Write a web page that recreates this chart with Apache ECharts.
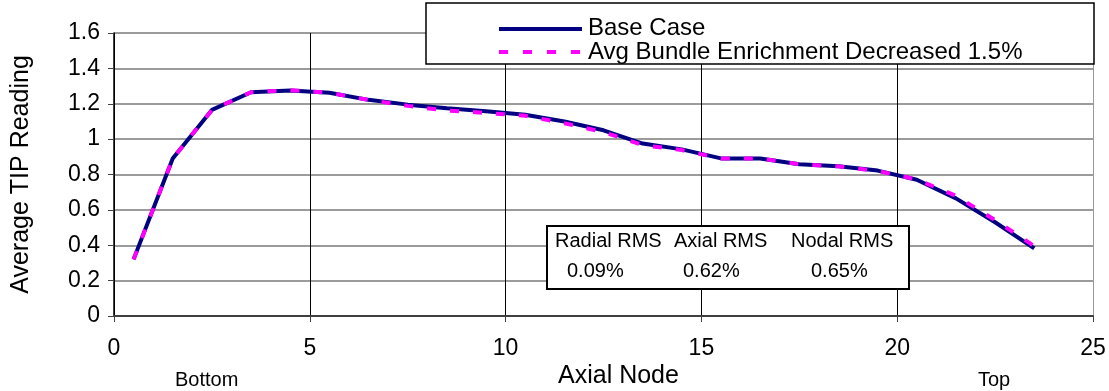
<!DOCTYPE html>
<html>
<head>
<meta charset="utf-8">
<script src="https://cdn.jsdelivr.net/npm/echarts@6/dist/echarts.min.js"></script>
<style>
html,body{margin:0;padding:0;background:#fff;}
#chart{width:1109px;height:391px;}
</style>
</head>
<body>
<div id="chart"></div>
<script>
const nodes = [0.5,1.5,2.5,3.5,4.5,5.5,6.5,7.5,8.5,9.5,10.5,11.5,12.5,13.5,14.5,15.5,16.5,17.5,18.5,19.5,20.5,21.5,22.5,23.5];
const baseCase = [0.32,0.89,1.165,1.265,1.275,1.262,1.222,1.195,1.175,1.158,1.138,1.1,1.05,0.975,0.942,0.891,0.891,0.858,0.847,0.822,0.77,0.665,0.53,0.382];
const enrichDecreased = [0.32,0.89,1.165,1.265,1.277,1.262,1.222,1.188,1.162,1.148,1.132,1.09,1.04,0.966,0.938,0.891,0.891,0.858,0.846,0.82,0.772,0.68,0.542,0.395];
const seriesNames = ['Base Case','Avg Bundle Enrichment Decreased 1.5%'];
const rmsHeaders = ['Radial RMS','Axial RMS','Nodal RMS'];
const rmsValues = ['0.09%','0.62%','0.65%'];
const xTitle = 'Axial Node';
const yTitle = 'Average TIP Reading';
const endLabels = ['Bottom','Top'];

const FONT = '"Liberation Sans", Arial, sans-serif';
const chart = echarts.init(document.getElementById('chart'), null, {renderer:'canvas'});

const toPairs = vals => nodes.map((x,i)=>[x, vals[i]]);

const rmsHeaderX = [555, 674, 791];
const rmsValueX = [567, 683, 811];

const option = {
  animation:false,
  backgroundColor:'#fff',
  textStyle:{fontFamily:FONT},
  grid:{left:114, right:16, top:33, bottom:75, containLabel:false},
  legend:{
    orient:'vertical',
    left:499, top:16,
    itemWidth:83, itemHeight:12, itemGap:0,
    itemStyle:{opacity:0},
    lineStyle:{opacity:0},
    textStyle:{fontFamily:FONT, fontSize:24, color:'#000'},
    data:seriesNames,
    padding:0
  },
  xAxis:{
    type:'value', min:0, max:25, interval:5,
    axisLine:{show:true, lineStyle:{color:'#404040', width:2}},
    axisTick:{show:true, length:6, lineStyle:{color:'#404040'}},
    axisLabel:{fontFamily:FONT, fontSize:23, color:'#000', margin:21},
    splitLine:{show:true, lineStyle:{color:['#000','#000','#000','#000','#000','#999'], width:1}}
  },
  yAxis:{
    type:'value', min:0, max:1.6, interval:0.2,
    axisLine:{show:true, lineStyle:{color:'#000', width:1.5}},
    axisTick:{show:true, length:6, lineStyle:{color:'#404040'}},
    axisLabel:{fontFamily:FONT, fontSize:23, color:'#000', margin:14},
    splitLine:{show:true, lineStyle:{color:'#7a7a7a', width:1.5}},
    name:yTitle, nameLocation:'middle', nameGap:80, nameRotate:90,
    nameTextStyle:{fontFamily:FONT, fontSize:25, color:'#000'}
  },
  series:[
    {name:seriesNames[0], type:'line', data:toPairs(baseCase), symbol:'none', z:3,
     lineStyle:{color:'#000080', width:4}, itemStyle:{color:'#000080'}},
    {name:seriesNames[1], type:'line', data:toPairs(enrichDecreased), symbol:'none', z:4,
     lineStyle:{color:'#ff00ff', width:4, type:[9,14]}, itemStyle:{color:'#ff00ff'}}
  ],
  graphic:[
    {type:'rect', z:1, shape:{x:426, y:3, width:668, height:61}, style:{fill:'#fff', stroke:'#000', lineWidth:1.5}},
    {type:'line', z:50, shape:{x1:499, y1:29, x2:582, y2:29}, style:{stroke:'#000080', lineWidth:4}},
    {type:'line', z:50, shape:{x1:499, y1:52, x2:582, y2:52}, style:{stroke:'#ff00ff', lineWidth:4, lineDash:[9,15]}},
    {type:'rect', z:100, shape:{x:547, y:226, width:362, height:63}, style:{fill:'#fff', stroke:'#000', lineWidth:2}},
    ...rmsHeaders.map((t,i)=>({type:'text', z:101, left:rmsHeaderX[i], top:231, style:{text:t, font:'20px '+FONT, fill:'#000'}})),
    ...rmsValues.map((t,i)=>({type:'text', z:101, left:rmsValueX[i], top:261, style:{text:t, font:'20px '+FONT, fill:'#000'}})),
    {type:'text', left:558, top:364, style:{text:xTitle, font:'25px '+FONT, fill:'#000'}},
    {type:'text', left:175, top:370, style:{text:endLabels[0], font:'20px '+FONT, fill:'#000'}},
    {type:'text', left:978, top:370, style:{text:endLabels[1], font:'20px '+FONT, fill:'#000'}}
  ]
};
chart.setOption(option);
</script>
</body>
</html>
